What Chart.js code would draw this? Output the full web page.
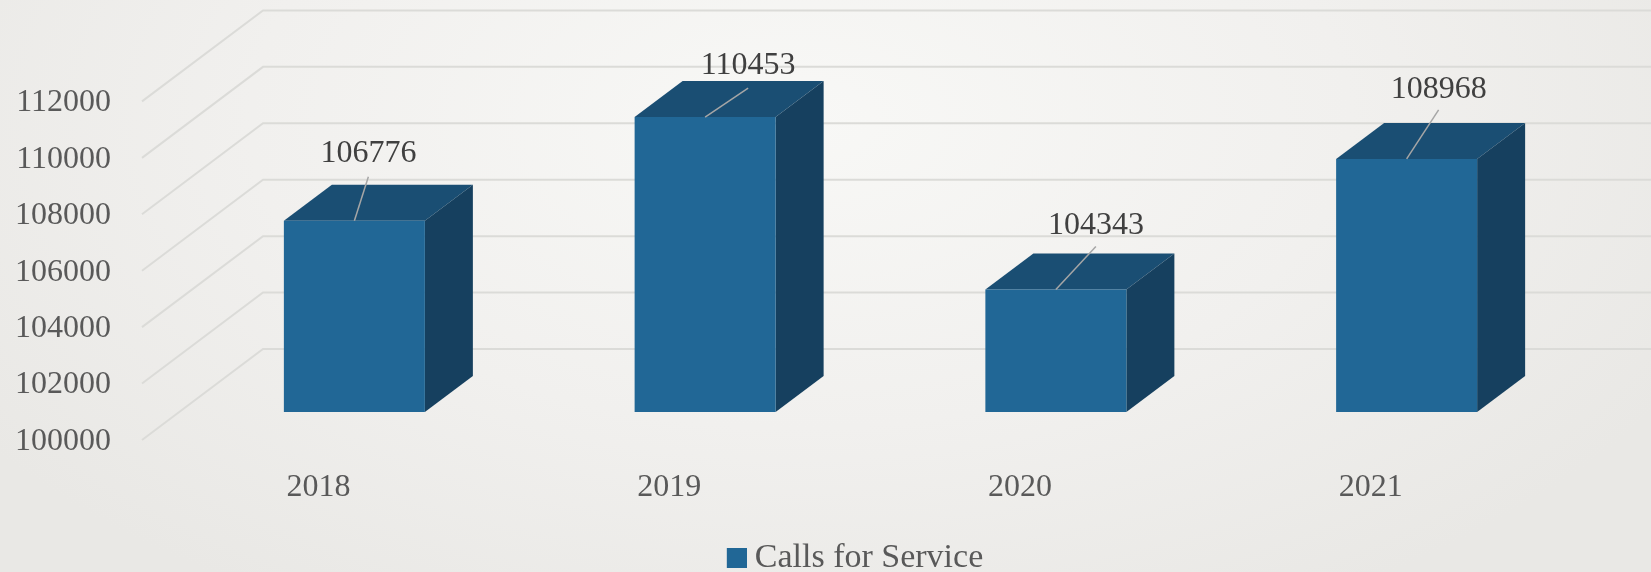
<!DOCTYPE html>
<html>
<head>
<meta charset="utf-8">
<style>
  html, body { margin: 0; padding: 0; width: 1651px; height: 572px; overflow: hidden; }
  body { background: radial-gradient(ellipse 1000px 560px at 800px 120px, #f8f8f6 0%, #f1f0ee 55%, #e9e8e5 100%); }
  canvas { display: block; }
</style>
<script src="https://cdn.jsdelivr.net/npm/chart.js@4/dist/chart.umd.js"></script>
</head>
<body>
<canvas id="chart" width="1651" height="572"></canvas>
<script>
const categories = ["2018", "2019", "2020", "2021"];
const seriesName = "Calls for Service";
const callsForService = [106776, 110453, 104343, 108968];
const yTicks = [100000, 102000, 104000, 106000, 108000, 110000, 112000];

// fake 3d depth of the box
const depthX = 48;
const depthY = 36;
// label and leader line offsets from the top middle of each bar
const labelShift = [[14, -67], [43, -51], [40, -64], [32, -69]];
const leaderEnd = [[14, -44], [43, -29], [40, -43], [32, -49]];

const fontFamily = "'Liberation Serif', serif";

// legend swatch, drawn on the right of a wider canvas so the text sits close to it
const swatch = document.createElement("canvas");
swatch.width = 29;
swatch.height = 20;
const swatchCtx = swatch.getContext("2d");
swatchCtx.fillStyle = "#216796";
swatchCtx.fillRect(9, 0, 20, 20);

const box3d = {
  id: "box3d",
  afterLayout(chart) {
    // legend sits right of the page centre and lower in the original
    chart.legend.left += 64;
    chart.legend.right += 64;
    chart.legend.top += 13;
    chart.legend.bottom += 13;
  },
  beforeDatasetsDraw(chart) {
    const ctx = chart.ctx;
    const y = chart.scales.y;

    ctx.save();
    ctx.strokeStyle = "#dbdbd8";
    ctx.lineWidth = 2;
    yTicks.forEach((t) => {
      const py = y.getPixelForValue(t);
      ctx.beginPath();
      ctx.moveTo(142, py + 28);
      ctx.lineTo(263, py - 63);
      ctx.lineTo(chart.width, py - 63);
      ctx.stroke();
    });

    chart.getDatasetMeta(0).data.forEach((bar) => {
      const l = bar.x - bar.width / 2;
      const r = bar.x + bar.width / 2;
      ctx.fillStyle = "#1a4e73";
      ctx.beginPath();
      ctx.moveTo(l, bar.y);
      ctx.lineTo(l + depthX, bar.y - depthY);
      ctx.lineTo(r + depthX, bar.y - depthY);
      ctx.lineTo(r, bar.y);
      ctx.closePath();
      ctx.fill();
      ctx.fillStyle = "#16405f";
      ctx.beginPath();
      ctx.moveTo(r, bar.y);
      ctx.lineTo(r + depthX, bar.y - depthY);
      ctx.lineTo(r + depthX, bar.base - depthY);
      ctx.lineTo(r, bar.base);
      ctx.closePath();
      ctx.fill();
    });
    ctx.restore();
  },
  afterDatasetsDraw(chart) {
    const ctx = chart.ctx;
    ctx.save();
    chart.getDatasetMeta(0).data.forEach((bar, i) => {
      ctx.strokeStyle = "#a6a6a6";
      ctx.lineWidth = 1.5;
      ctx.beginPath();
      ctx.moveTo(bar.x, bar.y);
      ctx.lineTo(bar.x + leaderEnd[i][0], bar.y + leaderEnd[i][1]);
      ctx.stroke();

      ctx.fillStyle = "#404040";
      ctx.font = "32px " + fontFamily;
      ctx.textAlign = "center";
      ctx.textBaseline = "middle";
      ctx.fillText(callsForService[i], bar.x + labelShift[i][0], bar.y + labelShift[i][1]);
    });
    ctx.restore();
  },
};

new Chart(document.getElementById("chart"), {
  type: "bar",
  data: {
    labels: categories,
    datasets: [
      {
        label: seriesName,
        data: callsForService,
        base: 100000,
        backgroundColor: "#216796",
        borderWidth: 0,
        barPercentage: 0.402,
        categoryPercentage: 1,
      },
    ],
  },
  plugins: [box3d],
  options: {
    responsive: false,
    animation: false,
    layout: {
      padding: { top: 73.4, right: 69, bottom: 0, left: 0 },
    },
    scales: {
      x: {
        grid: { display: false, drawTicks: false },
        border: { display: false },
        afterFit(scale) {
          scale.height = 116;
          scale.paddingLeft = 0;
          scale.paddingRight = 0;
        },
        ticks: {
          color: "#595959",
          font: { family: fontFamily, size: 32 },
          padding: 56,
          labelOffset: -36,
          maxRotation: 0,
          autoSkip: false,
        },
      },
      y: {
        min: 100000,
        max: 112000,
        grid: { display: false, drawTicks: false },
        border: { display: false },
        afterFit(scale) {
          scale.width = 179;
          scale.paddingTop = 0;
          scale.paddingBottom = 0;
        },
        afterBuildTicks(scale) {
          scale.ticks = yTicks.map((v) => ({ value: v }));
        },
        ticks: {
          color: "#595959",
          font: { family: fontFamily, size: 32 },
          padding: 68,
          labelOffset: 29.5,
          callback: (v) => String(v),
        },
      },
    },
    plugins: {
      tooltip: { enabled: false },
      legend: {
        position: "bottom",
        labels: {
          color: "#595959",
          font: { family: fontFamily, size: 34 },
          usePointStyle: true,
          pointStyle: swatch,
          pointStyleWidth: 11,
          padding: 0,
        },
      },
    },
  },
});
</script>
</body>
</html>
